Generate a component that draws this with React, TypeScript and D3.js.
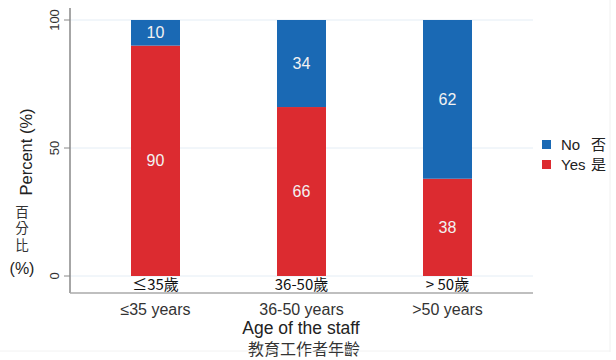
import { useEffect, useRef } from "react"
import * as d3 from "d3"

const categories = ["≤35 years", "36-50 years", ">50 years"]
const categoriesZh = ["≤35歲", "36-50歲", "> 50歲"]
const yesValues = [90, 66, 38]
const noValues = [10, 34, 62]
const yTicks = [0, 50, 100]
const legendItems = [
  { label: "No", zh: "否", color: "#1a69b4" },
  { label: "Yes", zh: "是", color: "#dc2b30" },
]

const FONT = "'Liberation Sans', Arial, sans-serif"
const CJK = "'Noto Sans CJK TC', 'Noto Sans CJK SC', sans-serif"

export default function App() {
  const svgRef = useRef<SVGSVGElement>(null)

  useEffect(() => {
    if (!svgRef.current) return
    const svg = d3.select(svgRef.current)
    svg.selectAll("*").remove()

    const left = 70
    const right = 533
    const top = 20
    const bottom = 276
    const axisY = 293

    const x = d3.scalePoint<string>().domain(categories).range([82.5, 520.5]).padding(0.5)
    const y = d3.scaleLinear().domain([0, 100]).range([bottom, top])
    const barW = 49

    // grid
    svg
      .append("g")
      .selectAll("line")
      .data(yTicks)
      .enter()
      .append("line")
      .attr("x1", left)
      .attr("x2", right)
      .attr("y1", (d) => y(d))
      .attr("y2", (d) => y(d))
      .attr("stroke", "#e4edf5")
      .attr("stroke-width", 1)

    // bars
    const rows = categories.map((c, i) => ({ c, yes: yesValues[i], no: noValues[i] }))
    const g = svg.append("g")
    rows.forEach((r) => {
      const cx = x(r.c) || 0
      g.append("rect")
        .attr("x", cx - barW / 2)
        .attr("y", y(r.yes))
        .attr("width", barW)
        .attr("height", y(0) - y(r.yes))
        .attr("fill", legendItems[1].color)
      g.append("rect")
        .attr("x", cx - barW / 2)
        .attr("y", y(r.yes + r.no))
        .attr("width", barW)
        .attr("height", y(r.yes) - y(r.yes + r.no))
        .attr("fill", legendItems[0].color)
      g.append("text")
        .attr("x", cx)
        .attr("y", y(r.yes / 2))
        .attr("dy", "0.35em")
        .attr("text-anchor", "middle")
        .attr("fill", "#f2f2f2")
        .style("font-family", FONT)
        .style("font-size", "16px")
        .text(r.yes)
      g.append("text")
        .attr("x", cx)
        .attr("y", y(r.yes + r.no / 2))
        .attr("dy", "0.35em")
        .attr("text-anchor", "middle")
        .attr("fill", "#f2f2f2")
        .style("font-family", FONT)
        .style("font-size", "16px")
        .text(r.no)
    })

    // chinese category labels under bars
    svg
      .append("g")
      .selectAll("text")
      .data(categories)
      .enter()
      .append("text")
      .attr("x", (d) => x(d) || 0)
      .attr("y", 290)
      .attr("text-anchor", "middle")
      .attr("fill", "#111")
      .style("font-family", CJK)
      .style("font-size", "15px")
      .text((d, i) => categoriesZh[i])

    // y axis
    svg
      .append("line")
      .attr("x1", left)
      .attr("x2", left)
      .attr("y1", 8)
      .attr("y2", axisY)
      .attr("stroke", "#888")
      .attr("stroke-width", 1.5)
    const yt = svg.append("g").selectAll("g").data(yTicks).enter().append("g")
    yt.append("line")
      .attr("x1", 64)
      .attr("x2", left)
      .attr("y1", (d) => y(d))
      .attr("y2", (d) => y(d))
      .attr("stroke", "#888")
    yt.append("text")
      .attr("transform", (d) => `translate(59,${y(d)}) rotate(-90)`)
      .attr("text-anchor", "middle")
      .attr("fill", "#333")
      .style("font-family", FONT)
      .style("font-size", "13px")
      .text((d) => d)

    // x axis
    svg
      .append("line")
      .attr("x1", left)
      .attr("x2", right)
      .attr("y1", axisY)
      .attr("y2", axisY)
      .attr("stroke", "#aaa")
      .attr("stroke-width", 1.5)
    svg
      .append("g")
      .selectAll("text")
      .data(categories)
      .enter()
      .append("text")
      .attr("x", (d) => x(d) || 0)
      .attr("y", 315)
      .attr("text-anchor", "middle")
      .attr("fill", "#333")
      .style("font-family", FONT)
      .style("font-size", "16px")
      .text((d) => d)

    // axis titles
    svg
      .append("text")
      .attr("x", 301)
      .attr("y", 334)
      .attr("text-anchor", "middle")
      .attr("fill", "#222")
      .style("font-family", FONT)
      .style("font-size", "17.5px")
      .text("Age of the staff")
    svg
      .append("text")
      .attr("x", 304)
      .attr("y", 355)
      .attr("text-anchor", "middle")
      .attr("fill", "#333")
      .style("font-family", CJK)
      .style("font-size", "16px")
      .text("教育工作者年齡")

    svg
      .append("text")
      .attr("transform", "translate(32,152) rotate(-90)")
      .attr("text-anchor", "middle")
      .attr("fill", "#222")
      .style("font-family", FONT)
      .style("font-size", "16.5px")
      .text("Percent (%)")
    // vertical upright CJK label
    svg
      .append("text")
      .attr("x", 22)
      .attr("y", 205)
      .attr("fill", "#333")
      .style("writing-mode", "vertical-rl")
      .style("text-orientation", "upright")
      .style("letter-spacing", "3px")
      .style("font-family", CJK)
      .style("font-size", "13.5px")
      .text("百分比")
    svg
      .append("text")
      .attr("x", 22)
      .attr("y", 274)
      .attr("text-anchor", "middle")
      .attr("fill", "#222")
      .style("font-family", FONT)
      .style("font-size", "16px")
      .text("(%)")

    // legend
    const lg = svg
      .append("g")
      .selectAll("g")
      .data(legendItems)
      .enter()
      .append("g")
      .attr("transform", (d, i) => `translate(542,${140 + i * 20})`)
    lg.append("rect").attr("width", 9).attr("height", 9).attr("fill", (d) => d.color)
    lg.append("text")
      .attr("x", 19)
      .attr("y", 9.5)
      .attr("fill", "#222")
      .style("font-family", FONT)
      .style("font-size", "15px")
      .text((d) => d.label)
    lg.append("text")
      .attr("x", 49)
      .attr("y", 9.5)
      .attr("fill", "#222")
      .style("font-family", CJK)
      .style("font-size", "15px")
      .text((d) => d.zh)

    // faint frame
    svg
      .append("line")
      .attr("x1", 610)
      .attr("x2", 610)
      .attr("y1", 0)
      .attr("y2", 352)
      .attr("stroke", "#f0f0f0")
    svg
      .append("line")
      .attr("x1", 0)
      .attr("x2", 610)
      .attr("y1", 351)
      .attr("y2", 351)
      .attr("stroke", "#f2f2f2")
  }, [])

  return (
    <svg
      ref={svgRef}
      width={616}
      height={360}
      style={{ position: "absolute", left: 0, top: 0, background: "#fff" }}
    />
  )
}
